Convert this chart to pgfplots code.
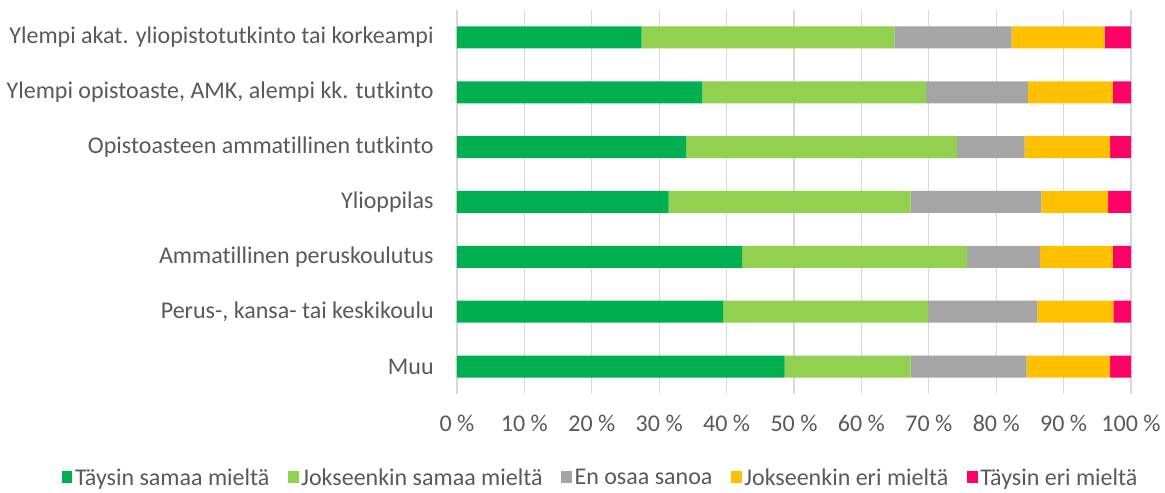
\documentclass[border=0pt]{standalone}
\usepackage{pgfplots}
\pgfplotsset{compat=1.18}
\usepackage{fontspec}
\setmainfont[Ligatures=NoCommon]{Carlito}

\definecolor{cGreen}{HTML}{00B050}
\definecolor{cLight}{HTML}{92D050}
\definecolor{cGray}{HTML}{A5A5A5}
\definecolor{cYellow}{HTML}{FFC000}
\definecolor{cPink}{HTML}{FF0066}
\definecolor{cText}{HTML}{595959}
\definecolor{cGrid}{HTML}{D9D9D9}

% rows from bottom: Muu ... Ylempi akat.
\pgfplotstableread{
y taysin jokseenkin eos jokseenkineri taysineri
0 48.6 18.7 17.2 12.4 3.1
1 39.5 30.4 16.2 11.3 2.6
2 42.3 33.4 10.8 10.8 2.7
3 31.4 35.9 19.4  9.9 3.4
4 34.0 40.2 10.0 12.7 3.1
5 36.4 33.2 15.1 12.6 2.7
6 27.4 37.5 17.4 13.8 3.9
}\datatable

\begin{document}
\begin{tikzpicture}
\begin{axis}[
    name=ax,
    xbar stacked,
    scale only axis,
    width=505.5pt, height=288pt,
    xmin=0, xmax=100,
    ymin=-0.5, ymax=6.5,
    bar width=16.5pt,
    xtick={0,10,...,100},
    xticklabel={\pgfmathprintnumber{\tick}\ \%},
    /pgf/number format/assume math mode=true,
    ytick={0,...,6},
    yticklabels={Muu, {Perus-, kansa- tai keskikoulu}, Ammatillinen peruskoulutus,
        Ylioppilas, Opistoasteen ammatillinen tutkinto,
        {Ylempi opistoaste, AMK, alempi kk. tutkinto},
        Ylempi akat. yliopistotutkinto tai korkeampi},
    major tick length=0pt,
    xmajorgrids,
    grid style={cGrid, line width=1pt},
    axis line style={draw=none},
    tick label style={font=\fontsize{18pt}{21pt}\selectfont, text=cText},
    xticklabel style={yshift=-12pt},
    yticklabel style={xshift=-14pt},
    legend columns=5,
    legend style={
        at={(0.2136,-0.219)}, anchor=center,
        draw=none, fill=none,
        font=\fontsize{18pt}{21pt}\selectfont, text=cText,
        /tikz/every odd column/.append style={column sep=0pt},
        /tikz/every even column/.append style={column sep=12pt},
    },
    legend image code/.code={\fill[#1] (0pt,-4pt) rectangle (8pt,5pt);},
]
\addplot[fill=cGreen, draw=none] table[x=taysin, y=y] {\datatable};
\addplot[fill=cLight, draw=none] table[x=jokseenkin, y=y] {\datatable};
\addplot[fill=cGray, draw=none] table[x=eos, y=y] {\datatable};
\addplot[fill=cYellow, draw=none] table[x=jokseenkineri, y=y] {\datatable};
\addplot[fill=cPink, draw=none] table[x=taysineri, y=y] {\datatable};
\legend{Täysin samaa mieltä, Jokseenkin samaa mieltä, En osaa sanoa,
    Jokseenkin eri mieltä, Täysin eri mieltä}
\end{axis}
\path ([xshift=-342.75pt,yshift=-72pt]ax.south west) rectangle ([xshift=25.5pt,yshift=7.5pt]ax.north east);
\end{tikzpicture}
\end{document}
